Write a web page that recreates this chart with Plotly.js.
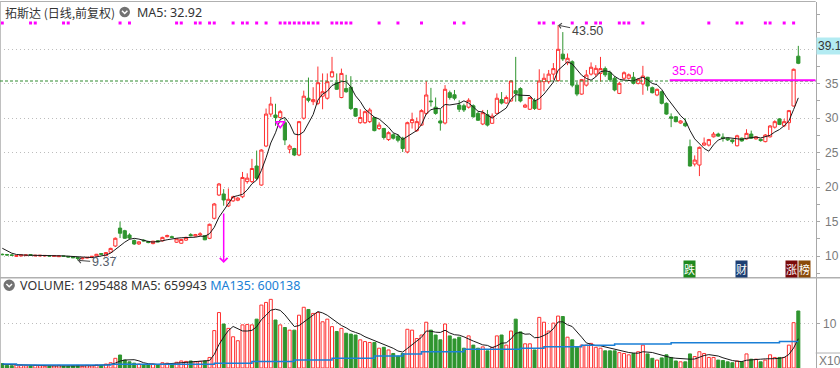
<!DOCTYPE html>
<html><head><meta charset="utf-8">
<script src="https://cdn.plot.ly/plotly-3.0.1.min.js"></script>
<style>html,body{margin:0;padding:0;background:#fff;overflow:hidden}#chart{width:840px;height:368px}</style>
</head><body><div id="chart"></div>
<script>
// ---------- data ----------
const opens = [10.25,10.2,10.15,9.95,10.0,10.05,10.2,10.0,10.0,10.0,
10.05,9.95,9.9,10.0,9.95,9.9,9.8,9.6,9.7,9.8,
10.0,10.35,10.05,10.55,11.45,14.05,13.67,13.05,12.25,11.75,
12.3,12.1,11.8,12.2,12.2,12.8,12.8,12.0,11.85,12.3,
13.1,12.9,13.05,12.95,12.57,15.47,18.85,19.0,17.26,18.0,
18.1,18.6,20.8,20.8,23.06,20.3,25.96,30.6,30.46,30.1,
29.35,25.5,25.6,24.66,30.0,32.9,32.4,32.16,33.2,32.9,
36.0,35.15,33.0,34.3,34.5,31.4,29.35,29.35,29.5,30.1,
28.5,28.5,26.9,27.6,27.4,27.1,25.1,29.35,28.2,29.0,
30.7,32.5,31.6,29.6,29.3,33.7,33.4,31.9,31.8,31.6,
31.8,30.7,29.16,30.5,29.26,30.7,32.7,32.2,32.5,34.0,
34.3,31.6,31.3,32.55,31.3,35.3,35.3,36.4,35.45,39.3,
38.05,38.2,34.8,33.5,34.8,36.4,36.4,36.5,37.2,36.6,
35.8,33.6,35.8,35.8,35.94,35.06,34.96,35.94,34.43,33.37,
33.84,32.16,30.2,30.2,29.3,29.26,25.86,23.35,23.2,26.1,
26.1,27.3,27.7,27.25,27.1,26.85,26.0,27.1,27.0,27.7,
27.0,26.95,26.6,27.3,28.7,29.9,28.9,29.35,31.77,39.0];
const highs = [10.35,10.3,10.25,10.1,10.2,10.2,10.25,10.15,10.15,10.12,
10.1,10.1,10.05,10.05,10.0,9.95,9.85,9.75,9.85,10.0,
10.3,10.4,10.55,11.2,12.7,15.0,13.8,13.3,12.4,12.15,
12.4,12.2,12.2,12.3,12.8,13.1,12.95,12.6,12.5,12.8,
13.3,13.2,13.45,13.0,14.7,17.7,20.6,19.7,19.8,18.75,
18.55,22.2,22.0,24.1,25.3,25.5,31.4,33.1,32.1,31.2,
29.9,26.2,25.7,29.6,34.0,35.9,34.5,37.5,36.5,36.5,
38.9,36.5,37.2,36.3,36.1,31.5,31.3,31.1,31.5,30.2,
29.4,28.6,28.1,27.8,27.7,27.3,29.5,30.8,30.1,31.3,
35.4,34.4,33.0,31.3,34.8,34.0,34.1,32.6,32.1,32.9,
32.0,30.9,31.2,31.2,30.7,33.6,33.8,33.3,35.5,38.9,
34.5,32.1,33.1,32.9,37.1,36.5,37.0,38.0,43.5,42.5,
39.4,38.4,35.3,35.7,37.0,38.1,37.7,38.9,37.5,36.9,
36.1,35.3,36.8,36.5,36.7,35.8,37.6,36.0,34.6,34.3,
34.0,32.3,30.7,30.3,29.7,30.0,26.9,24.6,25.9,27.2,
27.0,28.0,27.9,27.8,27.2,26.9,27.6,27.2,28.4,28.2,
27.4,27.0,27.7,29.0,29.7,30.0,29.9,31.2,37.2,40.5];
const lows = [10.1,10.05,10.0,9.9,9.95,10.0,10.05,9.95,9.95,9.95,
9.95,9.9,9.85,9.9,9.8,9.7,9.37,9.5,9.65,9.75,
9.95,10.2,10.0,10.5,11.3,12.6,12.5,12.4,11.6,11.6,
12.1,11.85,11.7,12.0,12.1,12.7,12.6,11.9,11.8,12.2,
12.85,12.8,12.9,12.3,12.45,15.3,18.7,17.3,17.1,17.85,
17.95,18.4,20.5,20.6,21.0,20.2,25.8,30.2,28.9,30.0,
26.1,24.9,24.5,24.5,29.8,32.3,31.9,31.9,31.3,32.7,
35.9,34.1,32.9,33.7,31.2,30.2,29.2,29.2,29.3,28.1,
28.3,26.9,26.7,26.9,26.5,25.1,24.9,28.5,28.0,28.9,
30.5,31.7,30.5,28.2,29.1,32.7,32.6,30.9,30.9,31.4,
30.1,29.6,29.0,28.8,29.2,30.6,32.0,32.1,32.4,32.4,
32.3,31.5,31.2,31.2,31.2,33.9,35.0,35.6,35.3,38.3,
37.7,34.5,33.2,33.4,34.6,36.2,36.0,35.3,36.0,35.3,
33.9,33.5,35.5,35.6,34.9,34.9,33.4,34.0,33.6,33.2,
32.0,30.5,28.7,29.4,29.2,28.7,23.0,23.0,21.6,26.0,
25.9,27.2,27.3,26.6,26.7,26.3,25.9,26.6,26.9,27.0,
26.9,26.6,26.5,27.2,28.5,29.0,28.7,28.3,31.7,37.85];
const closes = [10.2,10.15,10.1,10.05,10.15,10.15,10.1,10.1,10.1,10.08,
10.0,10.05,10.0,9.95,9.85,9.75,9.65,9.7,9.8,9.95,
10.25,10.25,10.5,11.1,12.57,13.3,12.57,12.6,11.75,12.05,
12.2,11.95,12.15,12.05,12.7,12.95,12.7,12.5,12.4,12.7,
12.95,13.1,13.2,12.35,14.6,17.55,20.45,18.13,18.23,18.6,
18.4,21.4,21.3,22.7,21.28,25.38,30.6,32.06,30.1,30.95,
26.84,25.96,24.66,29.5,33.2,32.6,32.7,35.15,33.84,35.3,
36.75,34.2,36.5,33.84,31.4,30.3,30.1,30.95,31.2,28.2,
29.0,27.2,27.9,27.1,26.8,25.6,29.35,29.8,29.5,31.1,
33.37,32.4,30.7,29.3,34.2,33.0,32.9,31.3,31.2,32.6,
30.2,29.7,30.8,29.0,30.3,32.9,32.2,33.0,35.4,33.6,
32.5,31.9,33.0,31.4,35.4,35.8,36.4,37.2,40.0,38.6,
38.7,34.8,33.5,35.6,36.27,37.4,37.24,37.2,36.3,35.6,
34.1,35.06,36.6,36.3,35.06,35.65,36.12,34.67,33.7,34.19,
32.16,30.6,30.0,29.5,29.6,28.9,23.06,23.93,25.77,26.4,
26.9,27.7,27.4,27.05,26.85,26.6,27.45,26.7,27.8,27.1,
27.3,26.75,27.56,28.87,29.5,29.1,29.5,31.1,37.1,37.97];
// volume in units of 10^5 shares
const volumes = [1.0,0.6,0.5,0.7,0.6,0.5,0.5,0.6,0.5,0.4,
0.4,0.5,0.6,0.4,0.4,0.5,0.6,0.4,0.6,0.5,
0.7,0.6,0.9,1.2,2.2,2.95,1.8,1.4,1.1,0.9,
0.8,0.7,0.9,0.7,1.2,1.1,0.9,1.3,1.6,1.5,
1.6,1.4,1.5,1.6,2.4,8.5,12.6,10.0,9.0,7.1,
6.2,9.8,9.9,9.8,11.1,14.3,14.9,15.6,10.9,9.8,
9.2,8.6,8.6,12.0,13.8,13.3,12.4,12.6,10.5,11.1,
9.4,8.3,9.0,7.9,7.7,7.5,6.4,6.0,5.8,5.8,
4.5,4.7,4.1,3.3,2.7,3.3,8.8,8.6,6.7,7.5,
10.4,8.6,7.5,6.4,10.0,7.3,6.6,7.0,4.5,7.3,
5.2,4.5,4.8,3.9,4.7,7.3,7.5,5.2,8.4,11.1,
8.2,5.5,5.5,4.1,11.5,10.4,8.4,10.2,11.8,11.7,
7.0,6.4,4.7,5.2,5.2,5.6,4.7,4.5,3.9,3.9,
3.9,3.5,3.3,3.0,3.3,3.7,5.2,3.2,2.2,1.8,
2.3,3.0,2.4,1.6,1.4,1.4,3.2,2.6,3.7,3.3,
2.4,2.4,1.8,1.7,1.4,1.2,1.6,1.4,3.2,2.0,
2.0,1.4,1.8,3.0,2.4,2.4,2.4,5.2,10.3,12.95488];
// MA135 of volume (10^5 units)
const ma135Vol = [0.9,0.9,0.9,
0.7,0.7,0.7,0.7,0.7,0.7,0.7,0.7,0.7,0.7,0.7,0.7,0.7,0.7,0.7,0.7,0.7,0.7,0.7,0.7,
0.85,0.85,0.85,0.85,0.85,0.85,0.85,0.85,0.85,0.85,0.85,0.85,0.85,0.85,0.85,0.85,0.85,0.85,0.85,0.85,0.85,0.85,
1.1,1.1,1.1,1.1,1.1,1.1,1.1,1.1,
1.45,1.45,1.45,1.45,1.45,1.45,1.45,1.45,1.45,
1.8,1.8,1.8,1.8,1.8,1.8,1.8,1.8,
2.2,2.2,2.2,2.2,2.2,2.2,2.2,2.2,2.2,
2.7,2.7,2.7,2.7,2.7,2.7,
3.2,3.2,3.2,3.2,
3.7,3.7,3.7,3.7,3.7,3.7,3.7,3.7,3.7,
4.25,4.25,4.25,4.25,4.25,4.25,4.25,4.25,4.25,4.25,4.25,4.25,
4.5,4.5,4.5,4.5,4.5,
4.85,4.85,4.85,4.85,4.85,4.85,4.85,4.85,
5.15,5.15,5.15,5.15,5.15,5.15,5.15,
5.45,5.45,5.45,5.45,5.45,5.45,5.45,5.45,5.45,5.45,5.45,5.45,
5.76,5.76,5.76,5.76,5.76,5.76,5.76,5.76,5.76,5.76,5.76,5.76,5.76,5.76,5.76,5.76,5.76,5.76,5.76,5.76,5.76,5.76,5.76,
6.0,6.0,6.0,6.0,6.0];
const preCloses = [12.2, 11.6, 11.0, 10.6];   // sessions before the window (feed MA5)
const preVolumes = [0.8, 0.7, 0.9, 0.8];
const dotIdx = [0,6,7,13,14,25,27,37,38,41,42,44,45,49,51,52,54,56,59,60,61,62,63,64,65,66,67,70,71,72,73,74,80,84,89,96,98,114,115,117,121,124,126,127,131,132,133,136,150,156,157,162,163,166,168];
const priceTicks = [10,15,20,25,30,35,40];
const priceTickText = ['10','15','20','25','30','35',''];
const volTicks = [10];
const volTickText = ['10'];
const markIdx = 59, markPrice = 29.2;
const arrowIdx = 47, arrowFrom = 16.4, arrowTo = 9.0;
const lineLevel = 35.5, lineStartIdx = 141.7, dashLevel = 35.4;
const DOT_LEVEL = 43.82;

// ---------- derived ----------
const idx = closes.map((_, i) => i);
function ma(pre, arr, n) {
  const all = pre.concat(arr);
  return arr.map((_, i) => { let s = 0; for (let k = 0; k < n; k++) s += all[i + pre.length - k]; return s / n; });
}
const ma5 = ma(preCloses, closes, 5);
const vma5 = ma(preVolumes, volumes, 5);

const RED = '#ff3030', GREEN = '#2f952f';
const up = closes.map((c, i) => c >= opens[i]);
const W = 840, H = 368;
const px = x => x / W, py = y => 1 - y / H;
const AX_X = 815.7, SEP_Y = 277.7;
const XR = [-0.488, 172.69];

const traces = [
  {type:'candlestick', x:idx, open:opens, high:highs, low:lows, close:closes,
   xaxis:'x', yaxis:'y', whiskerwidth:0, hoverinfo:'skip',
   increasing:{line:{color:RED,width:1}, fillcolor:'#ffffff'},
   decreasing:{line:{color:GREEN,width:1}, fillcolor:GREEN}},
  {type:'scatter', mode:'lines', x:idx, y:ma5, xaxis:'x', yaxis:'y',
   line:{color:'#1a1a1a', width:1}, hoverinfo:'skip'},
  {type:'scatter', mode:'markers', x:dotIdx, y:dotIdx.map(() => DOT_LEVEL), xaxis:'x', yaxis:'y',
   marker:{symbol:'square', size:3, color:'#ff00ff'}, cliponaxis:false, hoverinfo:'skip'},
  {type:'scatter', mode:'markers', x:[markIdx], y:[markPrice], xaxis:'x', yaxis:'y',
   marker:{symbol:'triangle-down-open', size:8, color:'#ff00ff', line:{width:1.5, color:'#ff00ff'}}, hoverinfo:'skip'},
  {type:'bar', x:idx, y:volumes, xaxis:'x', yaxis:'y2', width:0.64,
   marker:{color:up.map(u => u ? '#ffffff' : GREEN), line:{color:up.map(u => u ? RED : GREEN), width:1}},
   hoverinfo:'skip'},
  {type:'scatter', mode:'lines', x:idx, y:vma5, xaxis:'x', yaxis:'y2',
   line:{color:'#1a1a1a', width:1}, hoverinfo:'skip'},
  {type:'scatter', mode:'lines', x:idx, y:ma135Vol, xaxis:'x', yaxis:'y2',
   line:{color:'#1a7fd6', width:1.5, shape:'hv'}, hoverinfo:'skip'}
];

const axFont = {family:'Liberation Sans, Arial, sans-serif', size:12, color:'#7a7a7a'};
const layout = {
  width:W, height:H, margin:{l:0,r:0,t:0,b:0,pad:0},
  paper_bgcolor:'#ffffff', plot_bgcolor:'#ffffff', showlegend:false,
  boxgap:0.32, boxgroupgap:0,
  xaxis:{domain:[0, AX_X / W], range:XR, visible:false, rangeslider:{visible:false}, fixedrange:true},
  yaxis:{domain:[py(SEP_Y), py(1.5)], range:[6.85, 46.94], side:'right', anchor:'x',
    tickmode:'array', tickvals:priceTicks, ticktext:priceTickText,
    showgrid:true, gridcolor:'#bdbdbd', griddash:'1px,3px', gridwidth:1, zeroline:false,
    showline:true, linecolor:'#a8a8a8', linewidth:1,
    ticks:'outside', ticklen:3, tickcolor:'#a8a8a8', ticklabelstandoff:3, tickfont:axFont,
    minor:{tickmode:'linear', tick0:0, dtick:2.5, ticks:'outside', ticklen:3, tickcolor:'#a8a8a8', showgrid:false},
    fixedrange:true},
  yaxis2:{domain:[0, py(SEP_Y)], range:[0, 20.52], side:'right', anchor:'x',
    tickmode:'array', tickvals:volTicks, ticktext:volTickText,
    showgrid:true, gridcolor:'#bdbdbd', griddash:'1px,3px', gridwidth:1, zeroline:false,
    showline:true, linecolor:'#a8a8a8', linewidth:1,
    ticks:'outside', ticklen:3, tickcolor:'#a8a8a8', ticklabelstandoff:1, tickfont:axFont,
    fixedrange:true},
  shapes:[
    {type:'line', xref:'paper', yref:'paper', x0:0, x1:px(AX_X), y0:py(1.5), y1:py(1.5), line:{color:'#b0b0b0', width:1}},
    {type:'line', xref:'paper', yref:'paper', x0:px(0.5), x1:px(0.5), y0:0, y1:py(1.5), line:{color:'#c0c0c0', width:1}},
    {type:'line', xref:'paper', yref:'paper', x0:0, x1:1, y0:py(SEP_Y), y1:py(SEP_Y), line:{color:'#b0b0b0', width:1.5}},
    {type:'line', xref:'paper', yref:'paper', x0:px(AX_X), x1:1, y0:py(353), y1:py(353), line:{color:'#b0b0b0', width:1}},
    {type:'line', xref:'x domain', yref:'y', x0:0, x1:1, y0:dashLevel, y1:dashLevel, line:{color:'#2e8b2e', width:1, dash:'3px,2px'}},
    {type:'line', xref:'x', yref:'y', x0:lineStartIdx, x1:XR[1], y0:lineLevel, y1:lineLevel, line:{color:'#ff00ff', width:2}},
    {type:'circle', xref:'paper', yref:'paper', x0:px(119.4), x1:px(130), y0:py(17.3), y1:py(6.7), fillcolor:'#727272', line:{width:0}},
    {type:'path', xref:'paper', yref:'paper', path:`M${px(122)},${py(10.8)} L${px(124.7)},${py(13.5)} L${px(127.4)},${py(10.8)}`, line:{color:'#ffffff', width:1.5}},
    {type:'circle', xref:'paper', yref:'paper', x0:px(3.5), x1:px(14.9), y0:py(291), y1:py(279.6), fillcolor:'#727272', line:{width:0}},
    {type:'path', xref:'paper', yref:'paper', path:`M${px(6.4)},${py(284)} L${px(9.2)},${py(286.8)} L${px(12)},${py(284)}`, line:{color:'#ffffff', width:1.5}}
  ],
  annotations:[
    {xref:'paper', yref:'paper', x:px(3), y:py(12), xanchor:'left', yanchor:'middle', showarrow:false,
     text:'拓斯达 (日线,前复权)', font:{family:'Noto Sans CJK SC, sans-serif', size:12, color:'#333333'}},
    {xref:'paper', yref:'paper', x:px(135), y:py(12), xanchor:'left', yanchor:'middle', showarrow:false,
     text:'MA5: 32.92', font:{family:'Noto Sans, sans-serif', size:12.5, color:'#333333'}},
    {xref:'paper', yref:'paper', x:px(18), y:py(285.5), xanchor:'left', yanchor:'middle', showarrow:false,
     text:'VOLUME: 1295488 MA5: 659943 <span style="color:#1a7fd6">MA135: 600138</span>',
     font:{family:'Noto Sans, sans-serif', size:12.5, color:'#333333'}},
    {xref:'x', yref:'y', x:118, y:highs[118], ax:29, ay:6, text:'43.50', showarrow:true,
     arrowhead:4, arrowsize:1, arrowwidth:1, arrowcolor:'#444', font:{family:'Liberation Sans, Arial', size:12.5, color:'#444'}},
    {xref:'x', yref:'y', x:16, y:lows[16], ax:26, ay:2, text:'9.37', showarrow:true,
     arrowhead:4, arrowsize:1, arrowwidth:1, arrowcolor:'#444', font:{family:'Liberation Sans, Arial', size:12.5, color:'#555d6a'}},
    {xref:'x', yref:'y', x:arrowIdx, y:arrowTo, ax:arrowIdx, ay:arrowFrom, axref:'x', ayref:'y', text:'', showarrow:true,
     arrowhead:4, arrowsize:1, arrowwidth:1.5, arrowcolor:'#ff00ff'},
    {xref:'x', yref:'paper', x:lineStartIdx, y:py(71), xanchor:'left', yanchor:'middle', showarrow:false,
     text:'35.50', font:{family:'Liberation Sans, Arial', size:12.5, color:'#ff00ff'}},
    {xref:'paper', yref:'paper', x:px(816), y:py(46), xanchor:'left', yanchor:'middle', showarrow:false,
     text:'39.1', bgcolor:'#b3ebf2', borderpad:1, font:{family:'Liberation Sans, Arial', size:12, color:'#333'}},
    {xref:'paper', yref:'paper', x:px(817), y:py(360.5), xanchor:'left', yanchor:'middle', showarrow:false,
     text:'X10', font:axFont},
    {xref:'paper', yref:'paper', x:px(689), y:py(269), xanchor:'center', yanchor:'middle', showarrow:false,
     text:'跌', bgcolor:'#1f8a1f', borderpad:0, font:{family:'Noto Sans CJK SC', size:11, color:'#ffffff'}},
    {xref:'paper', yref:'paper', x:px(741.5), y:py(269), xanchor:'center', yanchor:'middle', showarrow:false,
     text:'财', bgcolor:'#1d3f73', borderpad:0, font:{family:'Noto Sans CJK SC', size:11, color:'#ffffff'}},
    {xref:'paper', yref:'paper', x:px(791.5), y:py(269), xanchor:'center', yanchor:'middle', showarrow:false,
     text:'涨', bgcolor:'#7a0a0a', borderpad:0, font:{family:'Noto Sans CJK SC', size:11, color:'#ffffff'}},
    {xref:'paper', yref:'paper', x:px(804), y:py(269), xanchor:'center', yanchor:'middle', showarrow:false,
     text:'榜', bgcolor:'#8a4a0a', borderpad:0, font:{family:'Noto Sans CJK SC', size:11, color:'#ffffff'}}
  ]
};
Plotly.newPlot('chart', traces, layout, {staticPlot:true, displayModeBar:false});
</script></body></html>
